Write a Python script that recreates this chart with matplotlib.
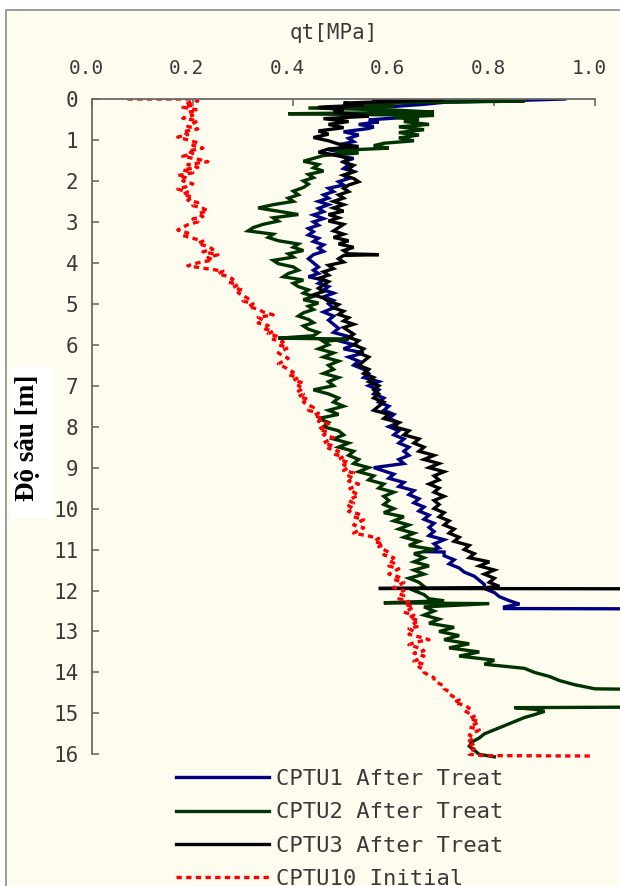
import matplotlib
matplotlib.use("Agg")
import matplotlib.pyplot as plt
from matplotlib.patches import Rectangle
from matplotlib.transforms import ScaledTranslation

# (depth [m], qt [MPa])
cptu1 = [(0.00, 0.94), (0.03, 0.86), (0.08, 0.70), (0.13, 0.66), (0.20, 0.58), (0.27, 0.57),
         (0.33, 0.63), (0.39, 0.60), (0.45, 0.62), (0.51, 0.55), (0.56, 0.57), (0.62, 0.53),
         (0.68, 0.56), (0.72, 0.55), (0.80, 0.50), (0.88, 0.53), (0.96, 0.51), (1.04, 0.52),
         (1.12, 0.49), (1.18, 0.52), (1.24, 0.47), (1.30, 0.50), (1.37, 0.48), (1.45, 0.52),
         (1.53, 0.50), (1.61, 0.51), (1.70, 0.50), (1.77, 0.52), (1.86, 0.50), (1.94, 0.51),
         (2.02, 0.49), (2.10, 0.50), (2.18, 0.47), (2.26, 0.48), (2.34, 0.46), (2.42, 0.47),
         (2.50, 0.45), (2.58, 0.47), (2.67, 0.45), (2.75, 0.46), (2.83, 0.44), (2.92, 0.46),
         (3.00, 0.44), (3.08, 0.45), (3.16, 0.43), (3.24, 0.44), (3.32, 0.43), (3.40, 0.45),
         (3.48, 0.44), (3.56, 0.46), (3.64, 0.45), (3.72, 0.46), (3.80, 0.44), (3.90, 0.43),
         (4.00, 0.44), (4.10, 0.45), (4.18, 0.44), (4.26, 0.45), (4.34, 0.43), (4.42, 0.46),
         (4.50, 0.45), (4.58, 0.47), (4.66, 0.46), (4.74, 0.48), (4.83, 0.46), (4.92, 0.48),
         (5.00, 0.47), (5.10, 0.48), (5.20, 0.46), (5.30, 0.48), (5.40, 0.47), (5.50, 0.48),
         (5.60, 0.49), (5.70, 0.48), (5.80, 0.51), (5.90, 0.49), (6.00, 0.52), (6.10, 0.50),
         (6.20, 0.54), (6.30, 0.51), (6.40, 0.53), (6.50, 0.52), (6.60, 0.54), (6.70, 0.55),
         (6.80, 0.54), (6.90, 0.57), (7.00, 0.55), (7.10, 0.57), (7.20, 0.56), (7.30, 0.58),
         (7.40, 0.57), (7.50, 0.59), (7.60, 0.58), (7.70, 0.60), (7.80, 0.59), (7.90, 0.61),
         (8.00, 0.59), (8.10, 0.61), (8.20, 0.60), (8.30, 0.62), (8.40, 0.61), (8.50, 0.63),
         (8.60, 0.62), (8.70, 0.63), (8.80, 0.61), (8.90, 0.62), (9.00, 0.56), (9.08, 0.58),
         (9.16, 0.60), (9.26, 0.59), (9.36, 0.62), (9.46, 0.61), (9.56, 0.64), (9.66, 0.63),
         (9.76, 0.65), (9.86, 0.64), (9.96, 0.66), (10.06, 0.65), (10.16, 0.67), (10.26, 0.66),
         (10.36, 0.68), (10.46, 0.67), (10.56, 0.68), (10.66, 0.67), (10.76, 0.70), (10.86, 0.68),
         (10.96, 0.69), (11.05, 0.66), (11.06, 0.70), (11.15, 0.70), (11.25, 0.72), (11.35, 0.71),
         (11.45, 0.73), (11.55, 0.74), (11.65, 0.76), (11.75, 0.77), (11.85, 0.78), (11.95, 0.78),
         (12.05, 0.80), (12.15, 0.81), (12.25, 0.83), (12.33, 0.85), (12.40, 0.82), (12.44, 0.82),
         (12.45, 1.20)]

cptu2 = [(0.00, 0.61), (0.02, 0.73), (0.05, 0.86), (0.08, 0.68), (0.12, 0.52), (0.17, 0.60),
         (0.22, 0.43), (0.27, 0.60), (0.32, 0.68), (0.36, 0.39), (0.40, 0.68), (0.45, 0.60),
         (0.50, 0.65), (0.55, 0.62), (0.62, 0.67), (0.68, 0.61), (0.75, 0.66), (0.82, 0.61),
         (0.88, 0.65), (0.95, 0.61), (1.02, 0.64), (1.08, 0.58), (1.14, 0.56), (1.20, 0.59),
         (1.26, 0.48), (1.32, 0.53), (1.38, 0.46), (1.45, 0.44), (1.52, 0.42), (1.60, 0.45),
         (1.68, 0.44), (1.76, 0.46), (1.84, 0.43), (1.92, 0.44), (2.00, 0.42), (2.08, 0.43),
         (2.16, 0.42), (2.25, 0.40), (2.34, 0.41), (2.42, 0.39), (2.50, 0.40), (2.58, 0.36),
         (2.66, 0.33), (2.74, 0.37), (2.82, 0.41), (2.90, 0.36), (2.98, 0.37), (3.06, 0.34),
         (3.14, 0.32), (3.22, 0.31), (3.30, 0.36), (3.38, 0.35), (3.46, 0.37), (3.54, 0.41),
         (3.62, 0.40), (3.70, 0.42), (3.78, 0.39), (3.86, 0.40), (3.94, 0.36), (4.02, 0.37),
         (4.10, 0.40), (4.18, 0.41), (4.26, 0.39), (4.34, 0.38), (4.42, 0.42), (4.50, 0.40),
         (4.58, 0.41), (4.66, 0.43), (4.74, 0.42), (4.82, 0.44), (4.90, 0.42), (4.98, 0.45),
         (5.06, 0.43), (5.14, 0.44), (5.22, 0.42), (5.30, 0.41), (5.38, 0.43), (5.46, 0.44),
         (5.54, 0.42), (5.62, 0.43), (5.70, 0.45), (5.78, 0.44), (5.84, 0.37), (5.86, 0.51),
         (5.92, 0.46), (6.00, 0.47), (6.10, 0.45), (6.20, 0.48), (6.30, 0.46), (6.40, 0.49),
         (6.50, 0.47), (6.60, 0.48), (6.70, 0.46), (6.80, 0.49), (6.90, 0.47), (7.00, 0.48),
         (7.10, 0.44), (7.20, 0.47), (7.30, 0.49), (7.40, 0.48), (7.50, 0.50), (7.60, 0.47),
         (7.70, 0.49), (7.80, 0.45), (7.90, 0.47), (8.00, 0.46), (8.10, 0.49), (8.20, 0.50),
         (8.30, 0.48), (8.40, 0.51), (8.50, 0.49), (8.60, 0.52), (8.70, 0.51), (8.80, 0.53),
         (8.90, 0.52), (9.00, 0.55), (9.10, 0.53), (9.20, 0.56), (9.30, 0.55), (9.40, 0.58),
         (9.50, 0.57), (9.60, 0.60), (9.70, 0.58), (9.80, 0.59), (9.90, 0.58), (10.00, 0.60),
         (10.10, 0.58), (10.20, 0.62), (10.30, 0.60), (10.40, 0.63), (10.50, 0.61), (10.60, 0.64),
         (10.70, 0.62), (10.80, 0.65), (10.90, 0.63), (11.00, 0.68), (11.10, 0.64), (11.20, 0.66),
         (11.30, 0.64), (11.40, 0.67), (11.50, 0.64), (11.60, 0.66), (11.70, 0.63), (11.80, 0.65),
         (11.90, 0.66), (12.00, 0.64), (12.10, 0.66), (12.20, 0.67), (12.25, 0.70), (12.30, 0.58),
         (12.32, 0.79), (12.40, 0.66), (12.50, 0.68), (12.60, 0.66), (12.70, 0.69), (12.80, 0.67),
         (12.90, 0.72), (13.00, 0.69), (13.10, 0.73), (13.20, 0.70), (13.30, 0.75), (13.40, 0.71),
         (13.50, 0.77), (13.60, 0.73), (13.70, 0.80), (13.80, 0.78), (13.90, 0.86), (14.00, 0.88),
         (14.10, 0.91), (14.20, 0.93), (14.30, 0.96), (14.40, 1.00), (14.43, 1.20), (14.84, 1.20),
         (14.86, 0.84), (14.90, 0.88), (14.95, 0.90), (15.03, 0.88), (15.10, 0.86), (15.20, 0.84),
         (15.30, 0.82), (15.40, 0.80), (15.50, 0.78), (15.60, 0.77), (15.70, 0.755), (15.80, 0.75),
         (15.90, 0.76), (16.00, 0.77), (16.06, 0.80)]

cptu3 = [(0.00, 0.56), (0.01, 0.70), (0.05, 0.62), (0.10, 0.50), (0.15, 0.54), (0.20, 0.45),
         (0.26, 0.50), (0.32, 0.48), (0.38, 0.53), (0.42, 0.55), (0.48, 0.46), (0.55, 0.51),
         (0.62, 0.47), (0.70, 0.50), (0.78, 0.45), (0.86, 0.47), (0.94, 0.44), (1.02, 0.47),
         (1.10, 0.49), (1.16, 0.53), (1.22, 0.47), (1.30, 0.45), (1.38, 0.49), (1.46, 0.51),
         (1.54, 0.50), (1.62, 0.52), (1.70, 0.51), (1.78, 0.52), (1.86, 0.50), (1.94, 0.52),
         (2.02, 0.53), (2.10, 0.51), (2.18, 0.50), (2.26, 0.51), (2.34, 0.49), (2.42, 0.50),
         (2.50, 0.48), (2.58, 0.50), (2.66, 0.48), (2.74, 0.50), (2.82, 0.47), (2.90, 0.49),
         (2.98, 0.47), (3.06, 0.50), (3.14, 0.49), (3.22, 0.48), (3.30, 0.50), (3.38, 0.48),
         (3.46, 0.51), (3.54, 0.49), (3.62, 0.52), (3.70, 0.50), (3.78, 0.51), (3.80, 0.57),
         (3.82, 0.50), (3.90, 0.49), (3.98, 0.50), (4.06, 0.47), (4.14, 0.48), (4.22, 0.46),
         (4.30, 0.47), (4.38, 0.45), (4.46, 0.47), (4.54, 0.46), (4.62, 0.45), (4.70, 0.46),
         (4.78, 0.44), (4.86, 0.46), (4.94, 0.47), (5.02, 0.49), (5.10, 0.48), (5.18, 0.50),
         (5.26, 0.49), (5.34, 0.51), (5.42, 0.50), (5.50, 0.52), (5.58, 0.50), (5.66, 0.51),
         (5.74, 0.52), (5.82, 0.51), (5.90, 0.53), (6.00, 0.52), (6.10, 0.54), (6.20, 0.53),
         (6.30, 0.55), (6.40, 0.54), (6.50, 0.53), (6.60, 0.55), (6.70, 0.54), (6.80, 0.56),
         (6.90, 0.55), (7.00, 0.57), (7.10, 0.56), (7.20, 0.57), (7.30, 0.56), (7.40, 0.58),
         (7.50, 0.57), (7.60, 0.56), (7.70, 0.59), (7.80, 0.58), (7.90, 0.61), (8.00, 0.60),
         (8.10, 0.63), (8.20, 0.62), (8.30, 0.65), (8.40, 0.64), (8.50, 0.66), (8.60, 0.65),
         (8.70, 0.68), (8.80, 0.66), (8.90, 0.69), (9.00, 0.67), (9.10, 0.70), (9.20, 0.68),
         (9.30, 0.69), (9.40, 0.67), (9.50, 0.69), (9.60, 0.68), (9.70, 0.70), (9.80, 0.68),
         (9.90, 0.69), (10.00, 0.68), (10.10, 0.70), (10.20, 0.69), (10.30, 0.71), (10.40, 0.70),
         (10.50, 0.72), (10.60, 0.71), (10.70, 0.73), (10.80, 0.72), (10.90, 0.75), (11.00, 0.74),
         (11.10, 0.76), (11.20, 0.75), (11.30, 0.79), (11.40, 0.77), (11.50, 0.80), (11.60, 0.78),
         (11.70, 0.80), (11.80, 0.79), (11.90, 0.81), (11.93, 0.78), (11.95, 0.57), (11.96, 1.20)]

cptu10 = [(0.00, 0.07), (0.00, 0.20), (0.05, 0.21), (0.10, 0.19), (0.15, 0.20), (0.20, 0.18),
          (0.27, 0.21), (0.33, 0.19), (0.40, 0.20), (0.47, 0.18), (0.53, 0.21), (0.60, 0.20),
          (0.67, 0.19), (0.73, 0.21), (0.80, 0.18), (0.87, 0.19), (0.93, 0.17), (1.00, 0.19),
          (1.07, 0.21), (1.13, 0.20), (1.20, 0.22), (1.27, 0.19), (1.33, 0.20), (1.40, 0.18),
          (1.47, 0.21), (1.53, 0.23), (1.60, 0.19), (1.67, 0.21), (1.73, 0.18), (1.80, 0.20),
          (1.87, 0.17), (1.93, 0.19), (2.00, 0.18), (2.07, 0.20), (2.13, 0.19), (2.20, 0.17),
          (2.27, 0.19), (2.33, 0.18), (2.40, 0.20), (2.47, 0.19), (2.53, 0.21), (2.60, 0.20),
          (2.67, 0.22), (2.73, 0.23), (2.80, 0.21), (2.87, 0.22), (2.93, 0.20), (3.00, 0.21),
          (3.07, 0.19), (3.13, 0.18), (3.20, 0.17), (3.27, 0.19), (3.33, 0.18), (3.40, 0.20),
          (3.47, 0.22), (3.53, 0.21), (3.60, 0.23), (3.67, 0.24), (3.73, 0.22), (3.80, 0.25),
          (3.87, 0.23), (3.93, 0.24), (4.00, 0.21), (4.07, 0.19), (4.13, 0.22), (4.20, 0.26),
          (4.27, 0.25), (4.33, 0.27), (4.40, 0.28), (4.47, 0.27), (4.53, 0.29), (4.60, 0.28),
          (4.67, 0.30), (4.73, 0.29), (4.80, 0.30), (4.87, 0.31), (4.93, 0.30), (5.00, 0.32),
          (5.07, 0.31), (5.13, 0.33), (5.20, 0.34), (5.27, 0.36), (5.33, 0.33), (5.40, 0.34),
          (5.47, 0.33), (5.53, 0.35), (5.60, 0.34), (5.67, 0.36), (5.73, 0.35), (5.80, 0.37),
          (5.87, 0.36), (5.93, 0.38), (6.00, 0.37), (6.07, 0.39), (6.13, 0.38), (6.20, 0.37),
          (6.27, 0.38), (6.33, 0.39), (6.40, 0.38), (6.47, 0.37), (6.53, 0.38), (6.60, 0.39),
          (6.67, 0.40), (6.73, 0.39), (6.80, 0.41), (6.87, 0.40), (6.93, 0.42), (7.00, 0.41),
          (7.07, 0.42), (7.13, 0.41), (7.20, 0.42), (7.27, 0.41), (7.33, 0.43), (7.40, 0.42),
          (7.47, 0.43), (7.53, 0.44), (7.60, 0.43), (7.67, 0.45), (7.73, 0.44), (7.80, 0.46),
          (7.87, 0.45), (7.93, 0.47), (8.00, 0.46), (8.07, 0.45), (8.13, 0.47), (8.20, 0.46),
          (8.27, 0.48), (8.33, 0.47), (8.40, 0.46), (8.47, 0.48), (8.53, 0.47), (8.60, 0.49),
          (8.67, 0.48), (8.73, 0.50), (8.80, 0.49), (8.87, 0.51), (8.93, 0.50), (9.00, 0.51),
          (9.07, 0.50), (9.13, 0.52), (9.20, 0.51), (9.27, 0.52), (9.33, 0.51), (9.40, 0.53),
          (9.47, 0.52), (9.53, 0.51), (9.60, 0.52), (9.67, 0.53), (9.73, 0.52), (9.80, 0.51),
          (9.87, 0.52), (9.93, 0.51), (10.00, 0.52), (10.07, 0.51), (10.13, 0.53), (10.20, 0.52),
          (10.27, 0.54), (10.33, 0.53), (10.40, 0.52), (10.47, 0.54), (10.53, 0.53), (10.60, 0.52),
          (10.67, 0.55), (10.73, 0.57), (10.80, 0.56), (10.87, 0.58), (10.93, 0.57), (11.00, 0.58),
          (11.07, 0.59), (11.13, 0.58), (11.20, 0.60), (11.27, 0.59), (11.33, 0.60), (11.40, 0.59),
          (11.47, 0.61), (11.53, 0.60), (11.60, 0.59), (11.67, 0.61), (11.73, 0.60), (11.80, 0.62),
          (11.87, 0.61), (11.93, 0.60), (12.00, 0.62), (12.07, 0.61), (12.13, 0.62), (12.20, 0.61),
          (12.27, 0.63), (12.33, 0.62), (12.40, 0.64), (12.47, 0.63), (12.53, 0.62), (12.60, 0.64),
          (12.67, 0.63), (12.73, 0.65), (12.80, 0.64), (12.87, 0.65), (12.93, 0.63), (13.00, 0.64),
          (13.07, 0.63), (13.13, 0.65), (13.20, 0.67), (13.27, 0.64), (13.33, 0.63), (13.40, 0.65),
          (13.47, 0.66), (13.53, 0.64), (13.60, 0.66), (13.67, 0.65), (13.73, 0.64), (13.80, 0.66),
          (13.87, 0.65), (13.93, 0.66), (14.00, 0.66), (14.07, 0.67), (14.13, 0.68), (14.20, 0.68),
          (14.27, 0.69), (14.33, 0.70), (14.40, 0.70), (14.47, 0.71), (14.53, 0.71), (14.60, 0.72),
          (14.67, 0.73), (14.73, 0.72), (14.80, 0.74), (14.87, 0.75), (14.93, 0.74), (15.00, 0.75),
          (15.07, 0.76), (15.13, 0.75), (15.20, 0.77), (15.27, 0.76), (15.33, 0.75), (15.40, 0.77),
          (15.47, 0.76), (15.53, 0.75), (15.60, 0.76), (15.67, 0.75), (15.73, 0.76), (15.80, 0.75),
          (15.87, 0.76), (15.93, 0.75), (16.00, 0.75), (16.03, 0.78), (16.04, 0.99)]

labels = ["CPTU1 After Treat", "CPTU2 After Treat", "CPTU3 After Treat", "CPTU10 Initial"]
colors = ["#000080", "#003300", "#000000", "#ff0000"]
x_ticks = [0.0, 0.2, 0.4, 0.6, 0.8, 1.0]
y_ticks = list(range(0, 17))

MONO = "DejaVu Sans Mono"
TXT = "#3a3a3a"
CREAM = "#fefbef"
W, H = 620, 886

fig = plt.figure(figsize=(W / 100, H / 100), dpi=100, facecolor="white")

# outer frame of the chart area, kept behind the axes
fig.patches.append(Rectangle((6 / W, -0.01), 1.0, 1 - 10 / H + 0.01, transform=fig.transFigure,
                             facecolor=CREAM, edgecolor="#8c8c8c", linewidth=1.2, zorder=-5))

top_px, m_px = 99, 40.96
ax = fig.add_axes([92.3 / W, 1 - (top_px + 16.2 * m_px) / H, (W - 92.3) / W, 16.2 * m_px / H])
ax.set_facecolor("none")
ax.set_zorder(2)

for series, lab, col in zip([cptu1, cptu2, cptu3], labels[:3], colors[:3]):
    d, q = zip(*series)
    ax.plot(q, d, color=col, linewidth=2.4, label=lab, solid_joinstyle="miter")
d, q = zip(*cptu10)
ax.plot(q, d, color=colors[3], linewidth=2.4, linestyle=(0, (1.6, 1.3)), label=labels[3])

ax.set_xlim(0, 1.05)
ax.set_ylim(16.2, 0)
ax.xaxis.tick_top()
ax.set_xticks(x_ticks)
ax.set_xticklabels(["%.1f" % v for v in x_ticks])
ax.set_yticks(y_ticks)
for s in ["right", "bottom"]:
    ax.spines[s].set_visible(False)
ax.spines["top"].set_bounds(0, 1.0)
ax.spines["left"].set_bounds(0, 16)
for s in ["top", "left"]:
    ax.spines[s].set_color("#6a6a6a")
    ax.spines[s].set_linewidth(1.3)
ax.tick_params(axis="x", direction="in", length=5, width=1.2, color="#6a6a6a", pad=15,
               labelsize=14, labelcolor=TXT)
ax.tick_params(axis="y", direction="in", length=5, width=1.2, color="#6a6a6a", pad=10,
               labelsize=15, labelcolor=TXT)
shift = ScaledTranslation(-6 / 100, 0, fig.dpi_scale_trans)
for t in ax.get_xticklabels():
    t.set_fontfamily(MONO)
    t.set_transform(t.get_transform() + shift)
for t in ax.get_yticklabels():
    t.set_fontfamily(MONO)

fig.text(334 / W, 1 - 33 / H, "qt[MPa]", ha="center", va="center", fontsize=15,
         family=MONO, color=TXT)

# y label on its white box
fig.patches.append(Rectangle((11 / W, 1 - 518 / H), 42 / W, 151 / H, transform=fig.transFigure,
                             facecolor="white", edgecolor="none", zorder=-4))
fig.text(28 / W, 1 - 438 / H, "Độ sâu [m]", rotation=90, ha="center", va="center",
         fontsize=19.5, fontweight="bold", family="Liberation Serif", color="black")

leg = fig.legend(loc="upper left", bbox_to_anchor=(176 / W, 1 - 769 / H), frameon=False,
                 prop={"family": MONO, "size": 16}, handlelength=4.2, handletextpad=0.3,
                 labelspacing=0.6, borderpad=0, borderaxespad=0)
for t in leg.get_texts():
    t.set_color(TXT)

fig.savefig("out.png", dpi=100, facecolor="white")
